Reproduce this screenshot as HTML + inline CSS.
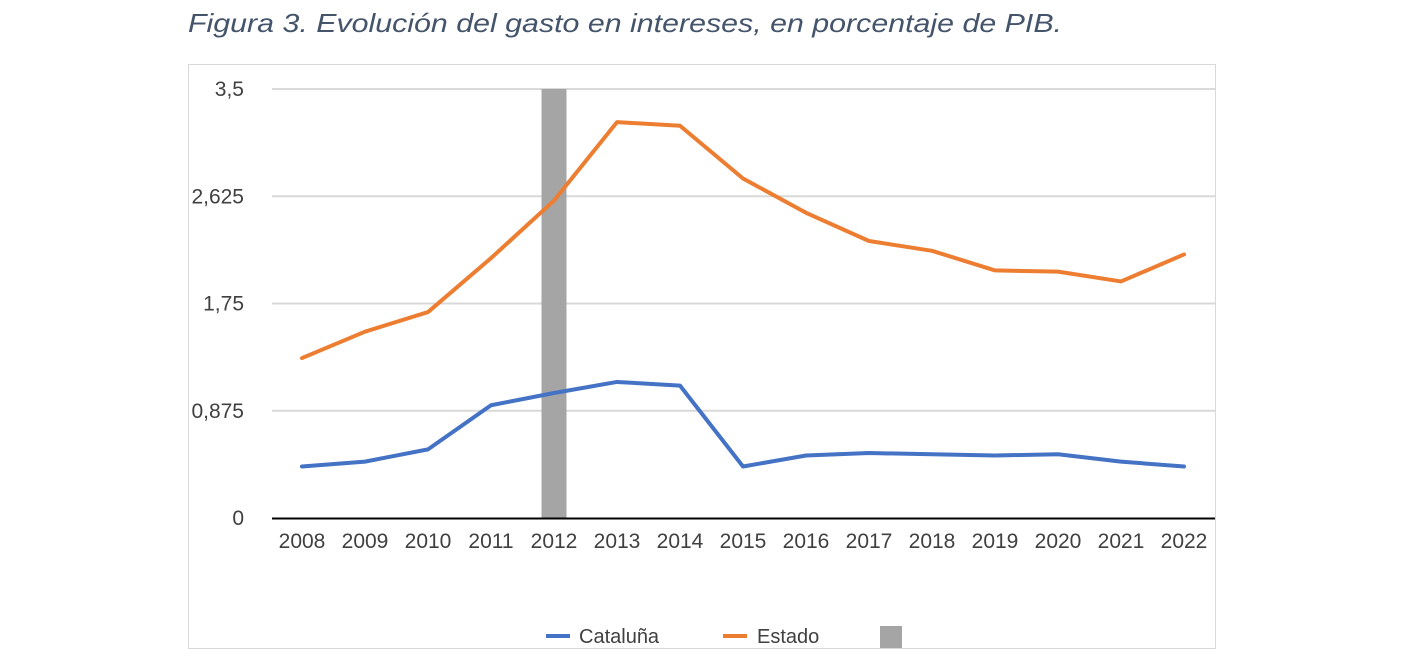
<!DOCTYPE html>
<html><head><meta charset="utf-8"><style>
body{margin:0;background:#fff;width:1402px;height:654px;overflow:hidden}
svg{font-family:"Liberation Sans",sans-serif}
</style></head><body>
<svg width="1402" height="654">
<text x="188" y="32" font-size="26" font-style="italic" fill="#44546a" textLength="874" lengthAdjust="spacingAndGlyphs">Figura 3. Evolución del gasto en intereses, en porcentaje de PIB.</text>
<rect x="188.5" y="64.5" width="1027" height="584" fill="none" stroke="#d9d9d9"/>
<g id="grid"></g><g id="marks"></g>
<g>
<line x1="546" y1="636" x2="570" y2="636" stroke="#4472c4" stroke-width="4"/>
<text x="579" y="643" font-size="20" fill="#404040">Cataluña</text>
<line x1="723" y1="636" x2="747" y2="636" stroke="#ed7d31" stroke-width="4"/>
<text x="757" y="643" font-size="20" fill="#404040">Estado</text>
<rect x="880" y="626" width="22" height="22" fill="#a5a5a5"/>
</g>
</svg>
<script>
const years=[2008,2009,2010,2011,2012,2013,2014,2015,2016,2017,2018,2019,2020,2021,2022];
const cataluna=[0.42,0.46,0.56,0.92,1.02,1.11,1.08,0.42,0.51,0.53,0.52,0.51,0.52,0.46,0.42];
const estado=[1.305,1.52,1.68,2.12,2.59,3.23,3.20,2.77,2.49,2.26,2.18,2.02,2.01,1.93,2.15];
const barYears=[2012];
const barValues=[3.5];
const yTicks=[0,0.875,1.75,2.625,3.5];
const yTickLabels=["0","0,875","1,75","2,625","3,5"];
const NS="http://www.w3.org/2000/svg";
const x=i=>302+i*63, y=v=>518-v*(429/3.5);
const grid=document.getElementById('grid'), marks=document.getElementById('marks');
function mk(tag,a,p){const e=document.createElementNS(NS,tag);for(const k in a)e.setAttribute(k,a[k]);p.appendChild(e);return e;}
yTicks.forEach((t,i)=>{
 if(t>0){const l=mk('line',{x1:272,x2:1215,y1:y(t),y2:y(t),stroke:'#d9d9d9','stroke-width':2},grid);
 
 }
 const tx=mk('text',{x:244,y:y(t)+7,'text-anchor':'end','font-size':21,fill:'#404040'},grid);
 tx.textContent=yTickLabels[i];
 
 
});
years.forEach((yr,i)=>{
 const tx=mk('text',{x:x(i),y:548,'text-anchor':'middle','font-size':21,fill:'#404040'},grid);
 tx.textContent=yr;
 
 
});
barYears.forEach((yr,j)=>{
 const i=years.indexOf(yr);
 const r=mk('rect',{x:x(i)-12.5,y:y(barValues[j]),width:25,height:518-y(barValues[j]),fill:'#a5a5a5'},marks);
 
 
});
const ax=mk('line',{x1:272,x2:1215,y1:518.5,y2:518.5,stroke:'#000','stroke-width':2},marks);


[[estado,'#ed7d31','line-estado'],[cataluna,'#4472c4','line-cataluna']].forEach(([d,c,n])=>{
 const p=mk('polyline',{points:d.map((v,i)=>x(i)+','+y(v)).join(' '),fill:'none',stroke:c,'stroke-width':4,'stroke-linejoin':'round','stroke-linecap':'round'},marks);
 
 
});
</script>
</body></html>
